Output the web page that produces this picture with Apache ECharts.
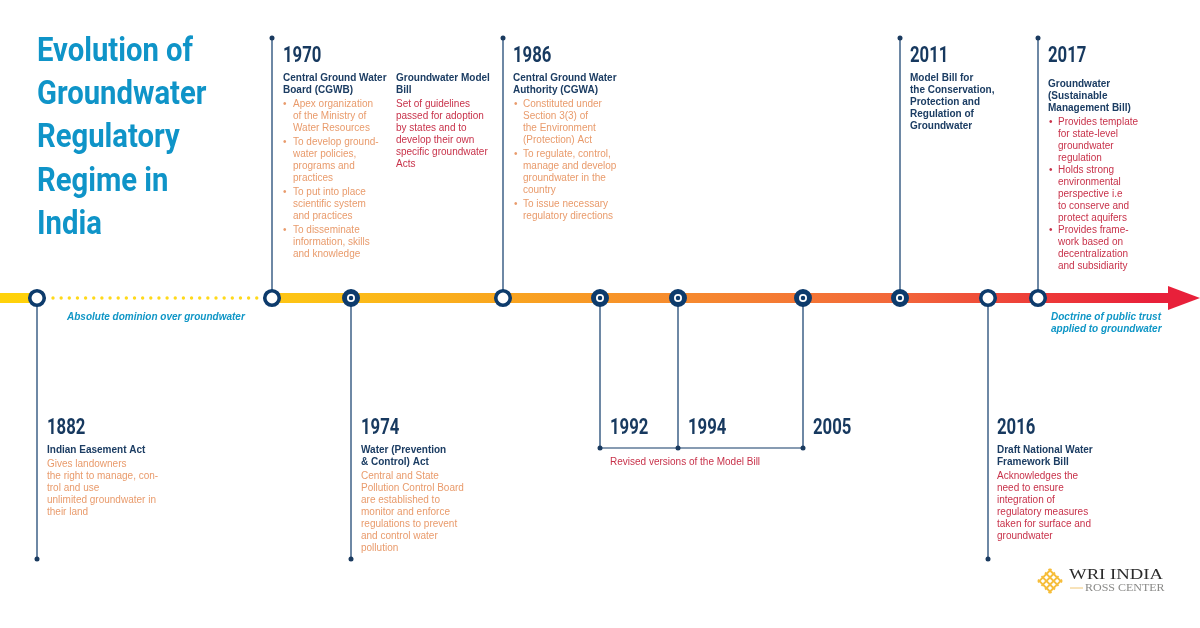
<!DOCTYPE html>
<html><head><meta charset="utf-8">
<style>html,body{margin:0;padding:0;background:#fff}#c{width:1200px;height:628px}</style>
<script src="https://cdn.jsdelivr.net/npm/echarts@6/dist/echarts.min.js"></script>
</head><body><div id="c"></div>
<script>
// ---- data ----
const years = ['1882','1970','1974','1986','1992','1994','2005','2011','2016','2017'];
// where each milestone sits along the (non-linear) timeline, in axis units
const stops = [37,272,351,503,600,678,803,900,988,1038];
// where each milestone's stem ends, on the vertical axis
const stemEnds = [559,38,559,38,448,448,448,38,559,38];
// milestones drawn with a centre dot
const dotted = ['1974','1992','1994','2005','2011'];
const lineLevel = [298];
const titleLines = ['Evolution of','Groundwater','Regulatory','Regime in','India'];
const noteAbsolute = ['Absolute dominion over groundwater'];
const noteDoctrine = ['Doctrine of public trust','applied to groundwater'];
const noteRevised = ['Revised versions of the Model Bill'];
const head1882 = ['Indian Easement Act'];
const body1882 = ['Gives landowners','the right to manage, con-','trol and use','unlimited groundwater in','their land'];
const head1970 = ['Central Ground Water','Board (CGWB)'];
const body1970 = [['Apex organization','of the Ministry of','Water Resources'],['To develop ground-','water policies,','programs and','practices'],['To put into place','scientific system','and practices'],['To disseminate','information, skills','and knowledge']];
const headModel = ['Groundwater Model','Bill'];
const bodyModel = ['Set of guidelines','passed for adoption','by states and to','develop their own','specific groundwater','Acts'];
const head1974 = ['Water (Prevention','& Control) Act'];
const body1974 = ['Central and State','Pollution Control Board','are established to','monitor and enforce','regulations to prevent','and control water','pollution'];
const head1986 = ['Central Ground Water','Authority (CGWA)'];
const body1986 = [['Constituted under','Section 3(3) of','the Environment','(Protection) Act'],['To regulate, control,','manage and develop','groundwater in the','country'],['To issue necessary','regulatory directions']];
const head2011 = ['Model Bill for','the Conservation,','Protection and','Regulation of','Groundwater'];
const head2016 = ['Draft National Water','Framework Bill'];
const body2016 = ['Acknowledges the','need to ensure','integration of','regulatory measures','taken for surface and','groundwater'];
const head2017 = ['Groundwater','(Sustainable','Management Bill)'];
const body2017 = [['Provides template','for state-level','groundwater','regulation'],['Holds strong','environmental','perspective i.e','to conserve and','protect aquifers'],['Provides frame-','work based on','decentralization','and subsidiarity']];
const logoLines = ['WRI INDIA','ROSS CENTER'];

// ---- styles ----
const NAVY='#0d3b6c', STEM='#3f6288', INK='#1c3d63', ORANGE='#e99b6c', RED='#c8324a', CYAN='#0f96c6';
const SANS='"Liberation Sans",Arial,sans-serif';
const S = {
  title:{font:'700 34px Roboto',fill:'#0f94c8',sx:.86,dy:2.2},
  year:{font:'700 22px Roboto',fill:'#17395f',sx:.76,dy:1},
  head:{font:'bold 10px '+SANS,fill:INK,dy:.8},
  orange:{font:'10px '+SANS,fill:ORANGE,dy:.8},
  red:{font:'10px '+SANS,fill:RED,dy:.8},
  note:{font:'italic bold 10px '+SANS,fill:CYAN,dy:.8},
  logo1:{font:'14px "Liberation Serif"',fill:'#2b2b2b',sx:1.335},
  logo2:{font:'11px "Liberation Serif"',fill:'#8a8a88',sx:1.09}
};
const texts=[];
const add=(x,y,t,s)=>texts.push({x,y,t,s});
const block=(lines,x,y,s,step=12)=>{lines.forEach((t,i)=>add(x,y+i*step,t,s));return y+lines.length*step;};
const bullets=(groups,x,tx,y,s,gap=2)=>{groups.forEach(g=>{add(x,y,'•',s);y=block(g,tx,y,s)+gap;});};
const yearAt=(yr,dx,y)=>add(stops[years.indexOf(yr)]+dx,y,yr,'year');

block(titleLines,37,50,'title',43.3);
block(noteAbsolute,67,316,'note');
block(noteDoctrine,1051,316,'note');
yearAt('1970',11,55); block(head1970,283,77,'head'); bullets(body1970,283,293,103,'orange');
block(headModel,396,77,'head'); block(bodyModel,396,103,'red');
yearAt('1986',10,55); block(head1986,513,77,'head'); bullets(body1986,514,523,103,'orange');
yearAt('2011',10,55); block(head2011,910,77,'head');
yearAt('2017',10,55); block(head2017,1048,83,'head'); bullets(body2017,1049,1058,121,'red',0);
yearAt('1882',10,427); block(head1882,47,449,'head'); block(body1882,47,463,'orange');
yearAt('1974',10,427); block(head1974,361,449,'head'); block(body1974,361,475,'orange');
yearAt('1992',10,427); yearAt('1994',10,427); yearAt('2005',10,427);
block(noteRevised,610,461,'red');
yearAt('2016',9,427); block(head2016,997,449,'head'); block(body2016,997,475,'red');
add(1069,575,logoLines[0],'logo1'); add(1085,588.5,logoLines[1],'logo2');

// stems as one broken line
const y0=lineLevel[0], stemPts=[];
stops.forEach((x,i)=>{stemPts.push([x,y0],[x,stemEnds[i]],[null,null]);});
const bracket=[[stops[4],stemEnds[4]],[stops[6],stemEnds[6]]];

const chart=echarts.init(document.getElementById('c'),null,{renderer:'canvas'});
const grad=new echarts.graphic.LinearGradient(0,0,1200,0,[
 {offset:0,color:'#ffd20a'},{offset:.25,color:'#fdc315'},{offset:.42,color:'#f9a51f'},{offset:.58,color:'#f6882f'},{offset:.75,color:'#f2663a'},{offset:.87,color:'#ed3a38'},{offset:.96,color:'#e8203a'},{offset:1,color:'#e8203a'}],true);

chart.setOption({
 animation:false,backgroundColor:'#fff',
 grid:{left:0,right:0,top:0,bottom:0},
 xAxis:{type:'value',min:0,max:1200,show:false},
 yAxis:{type:'value',min:0,max:628,inverse:true,show:false},
 series:[
  {type:'line',name:'stems',z:1,data:stemPts,showSymbol:false,symbol:'none',silent:true,lineStyle:{color:STEM,width:1.5}},
  {type:'line',name:'bracket',z:1,data:bracket,symbol:'none',silent:true,lineStyle:{color:'#5f7a99',width:1.5}},
  {type:'scatter',name:'stem ends',z:2,symbolSize:5,silent:true,itemStyle:{color:'#1a3a5f',opacity:1},data:stops.map((x,i)=>[x,stemEnds[i]])},
  {type:'line',name:'timeline',z:3,symbol:'none',silent:true,lineStyle:{color:grad,width:10,cap:'butt'},
   data:[[0,y0],[stops[0],y0],[null,null],[stops[1],y0],[1170,y0]]},
  {type:'line',name:'dominion dots',z:3,symbol:'none',silent:true,lineStyle:{color:'#ffd91a',width:3.4,cap:'round',type:[0,8.15]},
   data:[[53,y0],[259,y0]]},
  {type:'scatter',name:'arrow',z:3,symbol:'triangle',symbolRotate:-90,symbolSize:[24,32],silent:true,itemStyle:{color:'#e8203a',opacity:1},data:[[1184,y0]]},
  {type:'scatter',name:'nodes',z:4,silent:true,symbolSize:14.5,
   itemStyle:{color:'#fff',borderColor:NAVY,borderWidth:3.6,opacity:1},
   data:years.map((y,i)=>dotted.includes(y)?null:[stops[i],y0]).filter(Boolean)},
  {type:'scatter',name:'dotted nodes',z:4,silent:true,symbolSize:13,
   itemStyle:{color:'#fff',borderColor:NAVY,borderWidth:5,opacity:1},
   data:years.map((y,i)=>dotted.includes(y)?[stops[i],y0]:null).filter(Boolean)},
  {type:'scatter',name:'node centres',z:5,silent:true,symbolSize:4.5,itemStyle:{color:NAVY,opacity:1},
   data:years.map((y,i)=>dotted.includes(y)?[stops[i],y0]:null).filter(Boolean)},
  {type:'custom',name:'texts',z:6,silent:true,clip:false,
   data:texts.map(d=>[d.x,d.y]),encode:{x:0,y:1},
   renderItem:(p,api)=>{
     const d=texts[p.dataIndex],s=S[d.s],c=api.coord([d.x,d.y]);
     return {type:'text',x:c[0],y:c[1]+(s.dy||0),scaleX:s.sx||1,scaleY:1,
       style:{text:d.t,font:s.font,fill:s.fill,textAlign:'left',textVerticalAlign:'middle'}};
   }},
  {type:'custom',name:'logo rule',z:6,silent:true,data:[[1070,588]],encode:{x:0,y:1},
   renderItem:(p,api)=>{
     const a=api.coord([1070,588]),b=api.coord([1083,588]);
     return {type:'line',shape:{x1:a[0],y1:a[1],x2:b[0],y2:b[1]},style:{stroke:'#f0c674',lineWidth:1}};
   }}
 ],
 graphic:[{type:'group',x:1050,y:581,rotation:Math.PI/4,z:10,silent:true,children:
   [-7.5,-2.5,2.5,7.5].flatMap(v=>[
     {type:'rect',shape:{x:v-.95,y:-9.5,width:1.9,height:19},style:{fill:'#f6bd3a'}},
     {type:'rect',shape:{x:-9.5,y:v-.95,width:19,height:1.9},style:{fill:'#f6bd3a'}}
   ])
 }]
});
</script></body></html>
